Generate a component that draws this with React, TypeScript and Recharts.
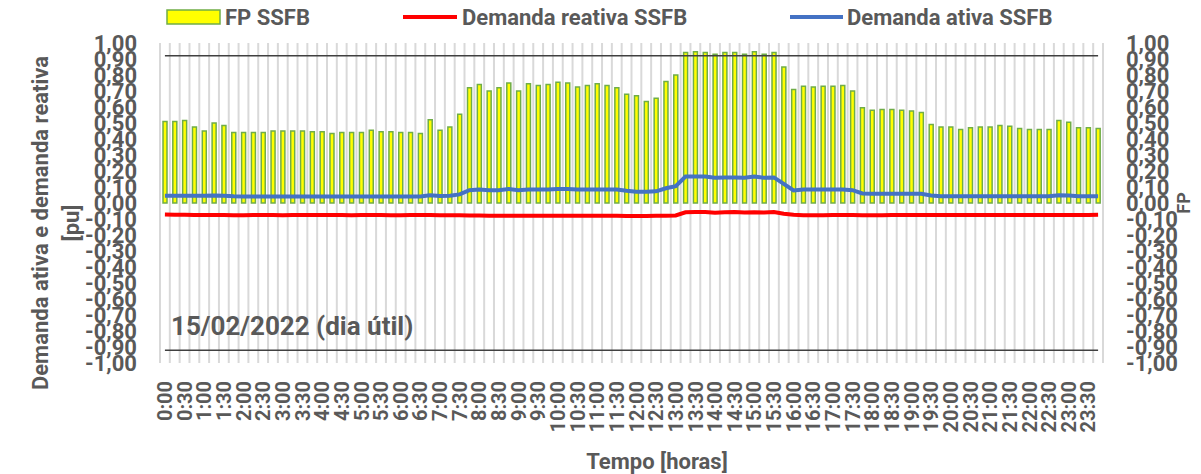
import { ComposedChart, Bar, Line, XAxis, YAxis, CartesianGrid, ReferenceLine } from "recharts";

// horário de cada medição (15 min)
const times = [
  "0:00", "0:15", "0:30", "0:45", "1:00", "1:15", "1:30", "1:45",
  "2:00", "2:15", "2:30", "2:45", "3:00", "3:15", "3:30", "3:45",
  "4:00", "4:15", "4:30", "4:45", "5:00", "5:15", "5:30", "5:45",
  "6:00", "6:15", "6:30", "6:45", "7:00", "7:15", "7:30", "7:45",
  "8:00", "8:15", "8:30", "8:45", "9:00", "9:15", "9:30", "9:45",
  "10:00", "10:15", "10:30", "10:45", "11:00", "11:15", "11:30", "11:45",
  "12:00", "12:15", "12:30", "12:45", "13:00", "13:15", "13:30", "13:45",
  "14:00", "14:15", "14:30", "14:45", "15:00", "15:15", "15:30", "15:45",
  "16:00", "16:15", "16:30", "16:45", "17:00", "17:15", "17:30", "17:45",
  "18:00", "18:15", "18:30", "18:45", "19:00", "19:15", "19:30", "19:45",
  "20:00", "20:15", "20:30", "20:45", "21:00", "21:15", "21:30", "21:45",
  "22:00", "22:15", "22:30", "22:45", "23:00", "23:15", "23:30", "23:45",
];

const fpSSFB = [
  0.51, 0.51, 0.515, 0.475, 0.45, 0.5, 0.485, 0.44,
  0.44, 0.44, 0.44, 0.45, 0.45, 0.45, 0.45, 0.445,
  0.445, 0.435, 0.44, 0.44, 0.44, 0.455, 0.445, 0.445,
  0.44, 0.44, 0.435, 0.52, 0.455, 0.475, 0.555, 0.72,
  0.74, 0.7, 0.72, 0.75, 0.7, 0.745, 0.735, 0.74,
  0.755, 0.75, 0.725, 0.735, 0.745, 0.735, 0.72, 0.68,
  0.67, 0.635, 0.655, 0.76, 0.8, 0.94, 0.945, 0.94,
  0.93, 0.94, 0.94, 0.93, 0.945, 0.93, 0.94, 0.85,
  0.71, 0.73, 0.725, 0.73, 0.73, 0.735, 0.7, 0.595,
  0.58, 0.585, 0.585, 0.58, 0.575, 0.565, 0.49, 0.475,
  0.475, 0.46, 0.47, 0.475, 0.475, 0.485, 0.48, 0.465,
  0.46, 0.46, 0.46, 0.515, 0.505, 0.47, 0.47, 0.465,
];

const reativaSSFB = [
  -0.072, -0.073, -0.074, -0.075, -0.075, -0.075, -0.075, -0.076,
  -0.076, -0.075, -0.075, -0.075, -0.076, -0.075, -0.075, -0.075,
  -0.075, -0.075, -0.075, -0.076, -0.075, -0.075, -0.075, -0.076,
  -0.076, -0.075, -0.075, -0.075, -0.076, -0.076, -0.077, -0.078,
  -0.078, -0.079, -0.079, -0.079, -0.079, -0.079, -0.079, -0.079,
  -0.079, -0.079, -0.079, -0.079, -0.079, -0.079, -0.08, -0.081,
  -0.082, -0.081, -0.08, -0.079, -0.078, -0.058, -0.056, -0.057,
  -0.061, -0.058, -0.057, -0.06, -0.058, -0.059, -0.056, -0.067,
  -0.074, -0.076, -0.076, -0.076, -0.075, -0.075, -0.075, -0.076,
  -0.076, -0.076, -0.075, -0.075, -0.075, -0.075, -0.075, -0.075,
  -0.075, -0.075, -0.075, -0.075, -0.075, -0.075, -0.075, -0.075,
  -0.075, -0.075, -0.075, -0.075, -0.075, -0.075, -0.075, -0.074,
];

const ativaSSFB = [
  0.046, 0.046, 0.046, 0.045, 0.045, 0.047, 0.046, 0.042,
  0.041, 0.041, 0.041, 0.041, 0.041, 0.041, 0.041, 0.041,
  0.041, 0.041, 0.041, 0.041, 0.041, 0.041, 0.041, 0.041,
  0.041, 0.041, 0.041, 0.048, 0.044, 0.045, 0.054, 0.08,
  0.085, 0.08, 0.08, 0.088, 0.08, 0.085, 0.085, 0.085,
  0.088, 0.088, 0.085, 0.085, 0.085, 0.085, 0.085, 0.077,
  0.071, 0.07, 0.073, 0.092, 0.105, 0.165, 0.165, 0.165,
  0.158, 0.16, 0.16, 0.158, 0.165, 0.158, 0.16, 0.12,
  0.078, 0.085, 0.085, 0.085, 0.085, 0.085, 0.08, 0.06,
  0.058, 0.058, 0.058, 0.058, 0.058, 0.058, 0.047, 0.042,
  0.042, 0.042, 0.042, 0.042, 0.042, 0.042, 0.042, 0.042,
  0.042, 0.042, 0.042, 0.048, 0.047, 0.042, 0.042, 0.042,
];

const yTicks = [
  -1, -0.9, -0.8, -0.7, -0.6, -0.5, -0.4, -0.3, -0.2, -0.1, 0,
  0.1, 0.2, 0.3, 0.4, 0.5, 0.6, 0.7, 0.8, 0.9, 1,
];

const limiteFP = 0.92;

const data = times.map((time, i) => ({
  time,
  fp: fpSSFB[i],
  reativa: reativaSSFB[i],
  ativa: ativaSSFB[i],
}));

const GRAY = "#595959";
const FONT = "Roboto, 'Noto Sans', sans-serif";
const W = 1201;
const H = 474;

const fmt = (v: number) => v.toFixed(2).replace(".", ",");

const tickStyle = { fill: GRAY, fontSize: 22, fontWeight: "bold", fontFamily: FONT };

function TimeTick({ x, y, payload }: any) {
  return (
    <text
      x={x}
      y={y}
      dx={-18}
      dy="0.36em"
      transform={`rotate(-90 ${x} ${y})`}
      textAnchor="end"
      fill={GRAY}
      fontSize={20}
      fontWeight="bold"
      fontFamily={FONT}
    >
      {payload.value}
    </text>
  );
}

export default function App() {
  return (
    <div style={{ position: "absolute", left: 0, top: 0, width: W, height: H, background: "#fff" }}>
      <ComposedChart
        width={W}
        height={H}
        data={data}
        margin={{ top: 43, right: 0, left: 0, bottom: 0 }}
        barCategoryGap={0}
      >
        <CartesianGrid
          stroke="#d9d9d9"
          strokeWidth={2}
          horizontalValues={yTicks}
          verticalCoordinatesGenerator={({ offset }: any) =>
            Array.from({ length: times.length + 1 }, (_, i) => offset.left + (i * offset.width) / times.length)
          }
        />
        <XAxis
          dataKey="time"
          interval={1}
          height={111}
          axisLine={false}
          tickLine={false}
          tickSize={0}
          tickMargin={0}
          tick={<TimeTick />}
        />
        <YAxis
          yAxisId="left"
          orientation="left"
          width={160}
          domain={[-1, 1]}
          ticks={yTicks}
          interval={0}
          tickFormatter={fmt}
          axisLine={false}
          tickLine={false}
          tickSize={0}
          tickMargin={23}
          tick={tickStyle}
        />
        <YAxis
          yAxisId="right"
          orientation="right"
          width={98}
          domain={[-1, 1]}
          ticks={yTicks}
          interval={0}
          tickFormatter={fmt}
          axisLine={false}
          tickLine={false}
          tickSize={0}
          tickMargin={23}
          tick={tickStyle}
        />
        <ReferenceLine
          yAxisId="right"
          segment={[{ x: times[0], y: limiteFP }, { x: times[times.length - 1], y: limiteFP }]}
          stroke="#404040"
          strokeWidth={1.5}
        />
        <ReferenceLine
          yAxisId="right"
          segment={[{ x: times[0], y: -limiteFP }, { x: times[times.length - 1], y: -limiteFP }]}
          stroke="#404040"
          strokeWidth={1.5}
        />
        <Bar
          yAxisId="right"
          dataKey="fp"
          name="FP SSFB"
          fill="#ffff00"
          stroke="#70ad47"
          strokeWidth={1.5}
          barSize={4}
          isAnimationActive={false}
        />
        <Line
          yAxisId="left"
          dataKey="reativa"
          name="Demanda reativa SSFB"
          stroke="#ff0000"
          strokeWidth={4}
          dot={false}
          activeDot={false}
          isAnimationActive={false}
        />
        <Line
          yAxisId="left"
          dataKey="ativa"
          name="Demanda ativa SSFB"
          stroke="#4472c4"
          strokeWidth={4}
          dot={false}
          activeDot={false}
          isAnimationActive={false}
        />
      </ComposedChart>

      {/* legenda, títulos e data */}
      <svg
        width={W}
        height={H}
        style={{ position: "absolute", left: 0, top: 0, pointerEvents: "none" }}
        fontFamily={FONT}
        fontWeight="bold"
        fill={GRAY}
      >
        <rect x={167} y={10} width={53} height={14} fill="#ffff00" stroke="#70ad47" strokeWidth={1.5} />
        <text x={225} y={17} dy="0.36em" fontSize={22}>FP SSFB</text>
        <line x1={403} y1={17} x2={457} y2={17} stroke="#ff0000" strokeWidth={4} />
        <text x={462} y={17} dy="0.36em" fontSize={22}>Demanda reativa SSFB</text>
        <line x1={790} y1={17} x2={843} y2={17} stroke="#4472c4" strokeWidth={4} />
        <text x={847} y={17} dy="0.36em" fontSize={22}>Demanda ativa SSFB</text>

        <text x={40} y={223} dy="0.36em" fontSize={22} textAnchor="middle" transform="rotate(-90 40 223)">
          Demanda ativa e demanda reativa
        </text>
        <text x={71} y={223} dy="0.36em" fontSize={22} textAnchor="middle" transform="rotate(-90 71 223)">
          [pu]
        </text>
        <text x={1184} y={203} dy="0.36em" fontSize={18} textAnchor="middle" transform="rotate(-90 1184 203)">
          FP
        </text>
        <text x={657} y={461} dy="0.36em" fontSize={22} textAnchor="middle">Tempo [horas]</text>
        <text x={171} y={326} dy="0.36em" fontSize={26}>15/02/2022 (dia útil)</text>
      </svg>
    </div>
  );
}
